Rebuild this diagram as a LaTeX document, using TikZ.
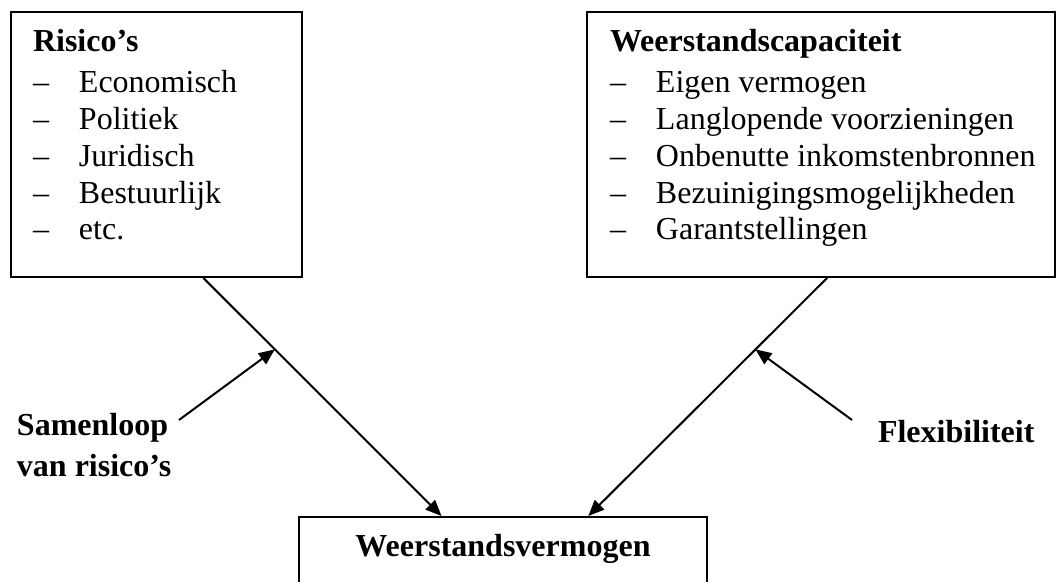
\documentclass[tikz,border=0pt]{standalone}
\usepackage{fontspec}
\setmainfont{Liberation Serif}
\usetikzlibrary{
        arrows.meta,
        calc,
        positioning
    }
\tikzset{>={Triangle[length=6pt,width=5pt]}}
\tikzset{box/.style={draw,rectangle,inner sep=0pt}}
\tikzset{txt/.style={inner sep=0pt,font=\fontsize{12}{13.76}\selectfont}}
\newcommand{\streep}[1]{\makebox[17.25pt][l]{--}#1}

\begin{document}
\begin{tikzpicture}[x=0.375pt,y=-0.375pt,line width=0.75pt]
                    \useasboundingbox (0,0) rectangle (1056,582);
                    \node[box,minimum width=109.125pt,minimum height=99.375pt] (risico) at (156.5,144.5) {};
                    \node[box,minimum width=175.5pt,minimum height=99.375pt] (capaciteit) at (821,144.5) {};
                    \node[box,minimum width=153pt,minimum height=36pt,anchor=north] (vermogen) at (503,516) {};
                    \node[txt,anchor=base west] (risicotekst) at (32,52) {\begin{tabular}[t]{@{}l@{}}
                        \textbf{Risico's}\\[1.6pt]
                        \streep{Economisch}\\
                        \streep{Politiek}\\
                        \streep{Juridisch}\\
                        \streep{Bestuurlijk}\\
                        \streep{etc.}
                    \end{tabular}};
                    \node[txt,anchor=base west] (capaciteittekst) at (609,52) {\begin{tabular}[t]{@{}l@{}}
                        \textbf{Weerstandscapaciteit}\\[1.6pt]
                        \streep{Eigen vermogen}\\
                        \streep{Langlopende voorzieningen}\\
                        \streep{Onbenutte inkomstenbronnen}\\
                        \streep{Bezuinigingsmogelijkheden}\\
                        \streep{Garantstellingen}
                    \end{tabular}};
                    \node[txt,anchor=base] (vermogentekst) at (503,557) {\textbf{Weerstandsvermogen}};
                    \node[txt,anchor=base west] (samenloop) at (16,436) {\begin{tabular}[t]{@{}l@{}}
                        \textbf{Samenloop}\\[1.6pt]
                        \textbf{van risico's}
                    \end{tabular}};
                    \node[txt,anchor=base west] (flexibiliteit) at (877,443) {\textbf{Flexibiliteit}};
                    \coordinate (rboven) at ($(risico.south west)!0.66!(risico.south east)$);
                    \coordinate (ronder) at ($(vermogen.north west)!0.35!(vermogen.north east)$);
                    \coordinate (cboven) at ($(capaciteit.south west)!0.513!(capaciteit.south east)$);
                    \coordinate (conder) at ($(vermogen.north west)!0.708!(vermogen.north east)$);
                    \coordinate (samenstart) at (179,420);
                    \coordinate (flexstart) at (852,420);
                    \draw[->] (rboven) -- (ronder);
                    \draw[->] (cboven) -- (conder);
                    \draw[->] (samenstart) -- ($(rboven)!0.3!(ronder)$);
                    \draw[->] (flexstart) -- ($(cboven)!0.3!(conder)$);
                \end{tikzpicture}
\end{document}
